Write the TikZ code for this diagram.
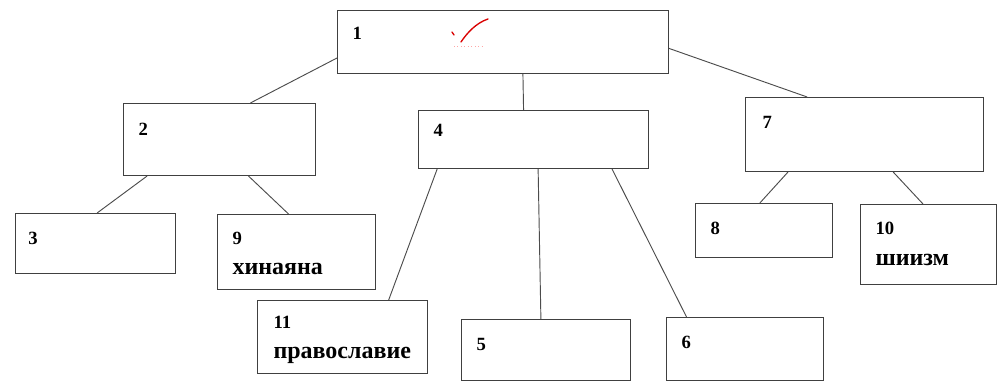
\documentclass[tikz,border=0pt]{standalone}
\usepackage{fontspec}
\setmainfont{Liberation Serif}[BoldFont={Liberation Serif Bold}]
\usetikzlibrary{calc}

\tikzset{every picture/.style={line width=0.75pt}}
\tikzset{
  box/.style 2 args={draw=black!75, rectangle, inner sep=0pt, anchor=north west, minimum width=#1, minimum height=#2},
  num/.style={anchor=base west, inner sep=0pt, font=\fontsize{14}{16}\selectfont\bfseries},
  word/.style={anchor=base west, inner sep=0pt, font=\fontsize{18}{20}\selectfont\bfseries},
  link/.style={draw=black!70, line width=0.7pt}
}

\begin{document}
\begin{tikzpicture}[x=0.75pt,y=0.75pt,yscale=-1,xscale=1]
\useasboundingbox (0,0) rectangle (1000,385);

%Shape: Rectangle [top row]
\node[box={248.25pt}{47.25pt}] (b1) at (337,10) {};
%Shape: Rectangle [second row]
\node[box={144pt}{54pt}] (b2) at (123,103) {};
\node[box={172.5pt}{43.5pt}] (b4) at (418,110) {};
\node[box={178.5pt}{55.5pt}] (b7) at (745,97) {};
%Shape: Rectangle [third row]
\node[box={120pt}{45pt}] (b3) at (15,213) {};
\node[box={118.5pt}{56.25pt}] (b9) at (217,214) {};
\node[box={102.75pt}{40.5pt}] (b8) at (695,203) {};
\node[box={102pt}{60pt}] (b10) at (860,204) {};
%Shape: Rectangle [bottom row]
\node[box={127.5pt}{54.75pt}] (b11) at (257,300) {};
\node[box={126.75pt}{45.75pt}] (b5) at (461,319) {};
\node[box={117.75pt}{47.25pt}] (b6) at (666,317) {};

%Straight Lines [from 1]
\draw[link] ($(b1.north west)!0.75!(b1.south west)$) -- ($(b2.north west)!0.66!(b2.north east)$);
\draw[link] ($(b1.south west)!0.56!(b1.south east)$) -- ($(b4.north west)!0.457!(b4.north east)$);
\draw[link] ($(b1.north east)!0.6!(b1.south east)$) -- ($(b7.north west)!0.26!(b7.north east)$);
%Straight Lines [from 2]
\draw[link] ($(b2.south west)!0.125!(b2.south east)$) -- ($(b3.north west)!0.51!(b3.north east)$);
\draw[link] ($(b2.south west)!0.65!(b2.south east)$) -- ($(b9.north west)!0.45!(b9.north east)$);
%Straight Lines [from 4]
\draw[link] ($(b4.south west)!0.083!(b4.south east)$) -- ($(b11.north west)!0.77!(b11.north east)$);
\draw[link] ($(b4.south west)!0.52!(b4.south east)$) -- ($(b5.north west)!0.47!(b5.north east)$);
\draw[link] ($(b4.south west)!0.84!(b4.south east)$) -- ($(b6.north west)!0.13!(b6.north east)$);
%Straight Lines [from 7]
\draw[link] ($(b7.south west)!0.18!(b7.south east)$) -- ($(b8.north west)!0.47!(b8.north east)$);
\draw[link] ($(b7.south west)!0.62!(b7.south east)$) -- ($(b10.north west)!0.46!(b10.north east)$);

%Curve Lines [red tick]
\draw[red!85!black, line width=1pt, line cap=round] (461,42) .. controls (467,33) and (476,23) .. (488,19) ;
\draw[red!85!black, line width=1pt, line cap=round] (452,32) -- (454,35) ;
\draw[red!35, line width=0.6pt, dotted] (454,46) -- (484,46) ;

% Text Node
\node[num] (t1) at (352,40) {1};
% Text Node
\node[num] (t2) at (138,135) {2};
% Text Node
\node[num] (t3) at (28,244) {3};
% Text Node
\node[num] (t4) at (433,137) {4};
% Text Node
\node[num] (t5) at (476,350) {5};
% Text Node
\node[num] (t6) at (681,348) {6};
% Text Node
\node[num] (t7) at (762,128) {7};
% Text Node
\node[num] (t8) at (710,234) {8};
% Text Node
\node[num] (t9) at (232,244) {9};
\node[word] (w9) at (232,274) {хинаяна};
% Text Node
\node[num] (t10) at (875,234) {10};
\node[word] (w10) at (875,265) {шиизм};
% Text Node
\node[num] (t11) at (273,328) {11};
\node[word] (w11) at (273,358) {православие};

\end{tikzpicture}
\end{document}
